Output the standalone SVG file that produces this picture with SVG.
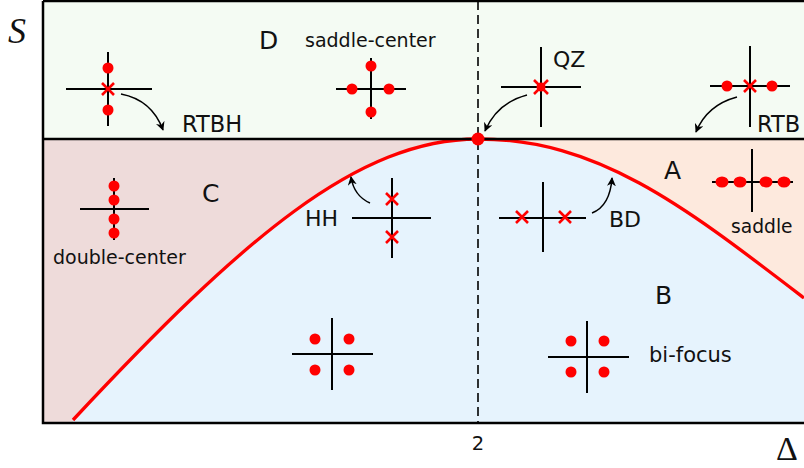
<svg xmlns="http://www.w3.org/2000/svg" width="804" height="468" viewBox="0 0 804 468">
<defs>
<style>
.ax{stroke:#000;stroke-width:2;fill:none}
.fr{stroke:#000;stroke-width:2.5;fill:none}
.dot{fill:#f00}
.x{stroke:#f00;stroke-width:2.6;fill:none}
.t{font-family:"DejaVu Sans","Liberation Sans",sans-serif;fill:#111}
.m{font-family:"Liberation Serif","DejaVu Serif",serif;fill:#111}
.arr{stroke:#000;stroke-width:1.5;fill:none;marker-end:url(#ah)}
</style>
<marker id="ah" viewBox="0 0 10 10" refX="9" refY="5" markerWidth="9" markerHeight="9" markerUnits="userSpaceOnUse" orient="auto">
<path d="M0,0 L10,5 L0,10 L3,5 Z" fill="#000"/>
</marker>
</defs>
<g id="regions">
<rect x="43" y="1" width="761" height="138" fill="#f4fbf3"/>
<rect x="43" y="139" width="435" height="284" fill="#eedbda"/>
<rect x="478" y="139" width="326" height="284" fill="#fde9dd"/>
<path d="M73,420 C243,238 358,139 478,139 C598,139 684,206 804,298 L804,423 L73,423 Z" fill="#e6f3fd"/>
</g>
<g id="frame">
<path class="fr" d="M43,1 H804 M43,1 V423 H804"/>
<line x1="478" y1="1" x2="478" y2="423" stroke="#000" stroke-width="1.6" stroke-dasharray="9,5"/>
<path d="M73,420 C243,238 358,139 478,139 C598,139 684,206 804,298" stroke="#f00" stroke-width="3.3" fill="none"/>
<line class="fr" x1="43" y1="139" x2="804" y2="139"/>
<circle class="dot" cx="478" cy="139" r="6.5"/>
<text class="m" x="8" y="43" font-size="36" font-style="italic">S</text>
<text class="m" x="776" y="460" font-size="34">Δ</text>
<text class="t" x="478" y="450" font-size="19.5" text-anchor="middle">2</text>
</g>
<g id="D">
<text class="t" x="259" y="49" font-size="25">D</text>
</g>
<g id="C">
<text class="t" x="202" y="202" font-size="25">C</text>
</g>
<g id="A">
<text class="t" x="664" y="179" font-size="25">A</text>
</g>
<g id="B">
<text class="t" x="655" y="304" font-size="25">B</text>
</g>
<g id="rtbh-left">
<path class="ax" d="M66,89 H152 M108,52 V126"/>
<circle class="dot" cx="108" cy="68" r="5.5"/>
<circle class="dot" cx="108" cy="110" r="5.5"/>
<path class="x" d="M102,83 L114,95 M114,83 L102,95"/>
<text class="t" x="182" y="132" font-size="22.5">RTBH</text>
</g>
<g id="saddle-center">
<text class="t" x="305" y="47" font-size="19">saddle-center</text>
<path class="ax" d="M336,89 H406 M371,58 V119"/>
<circle class="dot" cx="371" cy="66" r="5.5"/>
<circle class="dot" cx="371" cy="112" r="5.5"/>
<circle class="dot" cx="352" cy="89" r="5.5"/>
<circle class="dot" cx="389" cy="89" r="5.5"/>
</g>
<g id="qz">
<path class="ax" d="M501,87 H581 M541,47 V127"/>
<circle class="dot" cx="541" cy="87" r="4.5"/>
<path class="x" d="M534,80 L548,94 M548,80 L534,94"/>
<text class="t" x="553" y="67" font-size="22">QZ</text>
</g>
<g id="rtb-right">
<path class="ax" d="M710,86 H790 M750,46 V127"/>
<circle class="dot" cx="727" cy="86" r="5.5"/>
<circle class="dot" cx="772" cy="86" r="5.5"/>
<path class="x" d="M744,80 L756,92 M756,80 L744,92"/>
<text class="t" x="757" y="132" font-size="22.5">RTB</text>
</g>
<g id="double-center">
<path class="ax" d="M80,209 H149 M114,178 V240"/>
<circle class="dot" cx="114" cy="186" r="5.5"/>
<circle class="dot" cx="114" cy="200" r="5.5"/>
<circle class="dot" cx="114" cy="219" r="5.5"/>
<circle class="dot" cx="114" cy="233" r="5.5"/>
<text class="t" x="53" y="264" font-size="19">double-center</text>
</g>
<g id="hh">
<path class="ax" d="M352,218 H431 M392,178 V258"/>
<path class="x" d="M386,193 L398,205 M398,193 L386,205"/>
<path class="x" d="M386,231 L398,243 M398,231 L386,243"/>
<text class="t" x="305" y="226" font-size="22">HH</text>
</g>
<g id="bd">
<path class="ax" d="M499,218 H586 M543,182 V252"/>
<path class="x" d="M516,211 L528,223 M528,211 L516,223"/>
<path class="x" d="M559,211 L571,223 M571,211 L559,223"/>
<text class="t" x="609" y="227" font-size="22">BD</text>
</g>
<g id="saddle">
<path class="ax" d="M712,182 H793 M752,149 V212"/>
<ellipse class="dot" cx="722" cy="182" rx="6.5" ry="5.5"/>
<ellipse class="dot" cx="740" cy="182" rx="6.5" ry="5.5"/>
<ellipse class="dot" cx="766" cy="182" rx="6.5" ry="5.5"/>
<ellipse class="dot" cx="784" cy="182" rx="6.5" ry="5.5"/>
<text class="t" x="731" y="233" font-size="18.7">saddle</text>
</g>
<g id="focus-left">
<path class="ax" d="M292,354 H373 M332,318 V390"/>
<circle class="dot" cx="315" cy="339" r="5.5"/>
<circle class="dot" cx="349" cy="339" r="5.5"/>
<circle class="dot" cx="315" cy="370" r="5.5"/>
<circle class="dot" cx="349" cy="370" r="5.5"/>
</g>
<g id="bi-focus">
<path class="ax" d="M548,357 H629 M587,321 V393"/>
<circle class="dot" cx="571" cy="341" r="5.5"/>
<circle class="dot" cx="604" cy="341" r="5.5"/>
<circle class="dot" cx="571" cy="372" r="5.5"/>
<circle class="dot" cx="604" cy="372" r="5.5"/>
<text class="t" x="649" y="362" font-size="21">bi-focus</text>
</g>
<g id="connectors">
<path class="arr" d="M121,94 Q152,100 163,130"/>
<path class="arr" d="M527,95 Q497,103 485,131"/>
<path class="arr" d="M737,97 Q707,105 696,132"/>
<path class="arr" d="M370,203 Q354,196 351,177"/>
<path class="arr" d="M592,213 Q610,206 612,178"/>
</g>
</svg>
